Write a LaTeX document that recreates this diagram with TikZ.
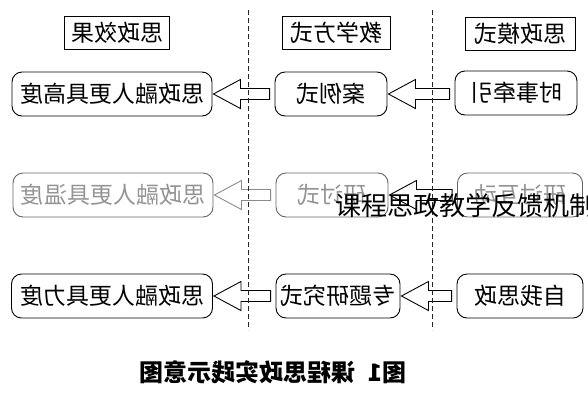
\documentclass[tikz,border=0pt]{standalone}
\usepackage{fontspec}
\usepackage{graphicx}
\newfontfamily\cjk{Noto Sans CJK SC}
\usetikzlibrary{calc}

% the picture is printed mirrored
\newcommand\mr[1]{\reflectbox{#1}}
% hollow block arrow from box #3 to box #2 (pointing left)
\newcommand\blockarr[3][black]{%
  \draw[blkarr, draw=#1] let \p1=($(#2.east)+(1,0)$), \p2=($(#3.west)+(-5,0)$) in
    (\x1,\y1) -- (\x1+27pt,\y1+14.5pt) -- (\x1+27pt,\y1+5.5pt) -- (\x2,\y1+5.5pt)
    -- (\x2,\y1-5.5pt) -- (\x1+27pt,\y1-5.5pt) -- (\x1+27pt,\y1-14.5pt) -- cycle;}

\begin{document}
\begin{tikzpicture}[x=1pt, y=-1pt, font=\cjk\fontsize{23}{25}\selectfont,
    head/.style={draw, line width=0.9pt, minimum height=33, inner sep=2pt},
    box/.style={draw, rounded corners=10pt, line width=0.9pt, minimum height=44, inner sep=3pt},
    faded/.style={draw=black!60, text=black!42},
    blkarr/.style={line width=0.9pt, fill=white},
    sepline/.style={dashed, dash pattern=on 5pt off 3pt, line width=1pt, black!85}]

  \fill[white] (0,0) rectangle (588,400);
  \useasboundingbox (0,0) rectangle (588,400);

  % ---------------- headers ----------------
  \node[head, minimum width=105] (hEff) at (117,33) {\mr{思政效果}};
  \node[head, minimum width=108] (hMeth) at (336,33) {\mr{教学方式}};
  \node[head, minimum width=110] (hMode) at (520,34) {\mr{思政模式}};

  % ---------------- rows ----------------
  \node[box, minimum width=200] (e1) at (112,94) {\mr{思政融人更具高度}};
  \node[box, minimum width=112] (m1) at (331,94) {\mr{案例式}};
  \node[box, minimum width=122] (s1) at (516,93) {\mr{时事牵引}};

  \node[box, faded, minimum width=200] (e2) at (113,195) {\mr{思政融人更具温度}};
  \node[box, faded, minimum width=112] (m2) at (332,195) {\mr{研讨式}};
  \node[box, faded, minimum width=125] (s2) at (520,195) {\mr{研讨互动}};

  \node[box, minimum width=201] (e3) at (112,296) {\mr{思政融人更具力度}};
  \node[box, minimum width=124] (m3) at (338,296) {\mr{专题研究式}};
  \node[box, minimum width=126] (s3) at (520,296) {\mr{自我思政}};

  % arrows right to left
  \blockarr{e1}{m1}
  \blockarr{m1}{s1}
  \blockarr[black!45]{e2}{m2}
  \blockarr{m2}{s2}
  \blockarr{e3}{m3}
  \blockarr{m3}{s3}

  % column separators
  \draw[sepline] (248,10) -- (248,330);
  \draw[sepline] (432,10) -- (432,330);

  \node[anchor=west, inner sep=0, font=\cjk\fontsize{26}{28}\selectfont] (fb) at (335,206) {课程思政教学反馈机制};

  \node[font=\cjk\bfseries\fontsize{24}{26}\selectfont] (cap) at (273,372) {\mr{图1\hspace{0.5em}课程思政实践示意图}};
\end{tikzpicture}
\end{document}
